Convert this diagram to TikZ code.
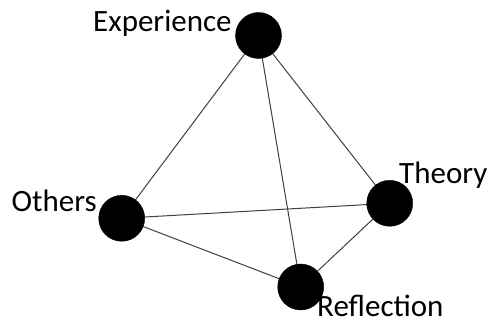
\documentclass[tikz,border=0pt]{standalone}
\usepackage{fontspec}
\setmainfont{Carlito}
\begin{document}
\begin{tikzpicture}[x=1pt,y=1pt,
  dot/.style={circle,fill=black,draw=black,minimum size=46pt,inner sep=0pt},
  lbl/.style={inner sep=0pt,anchor=base west,font=\fontsize{31}{31}\selectfont},
  edge/.style={draw=black!75,line width=1pt}]
\useasboundingbox (0,0) rectangle (493,320);
\coordinate (E) at (258.5,284.5);
\coordinate (T) at (389.7,116.7);
\coordinate (O) at (121.7,101.7);
\coordinate (R) at (300.7,33);
\draw[edge] (E) -- (O);
\draw[edge] (E) -- (T);
\draw[edge] (E) -- (R);
\draw[edge] (O) -- (T);
\draw[edge] (O) -- (R);
\draw[edge] (T) -- (R);
\node[dot] (e) at (E) {};
\node[dot] (t) at (T) {};
\node[dot] (o) at (O) {};
\node[dot] (r) at (R) {};
\node[lbl] (le) at (93,288) {Experience};
\node[lbl] (lt) at (399,136.7) {Theory};
\node[lbl] (lo) at (11.5,108.3) {Others};
\node[lbl] (lr) at (317,3) {Reflection};
\end{tikzpicture}
\end{document}
